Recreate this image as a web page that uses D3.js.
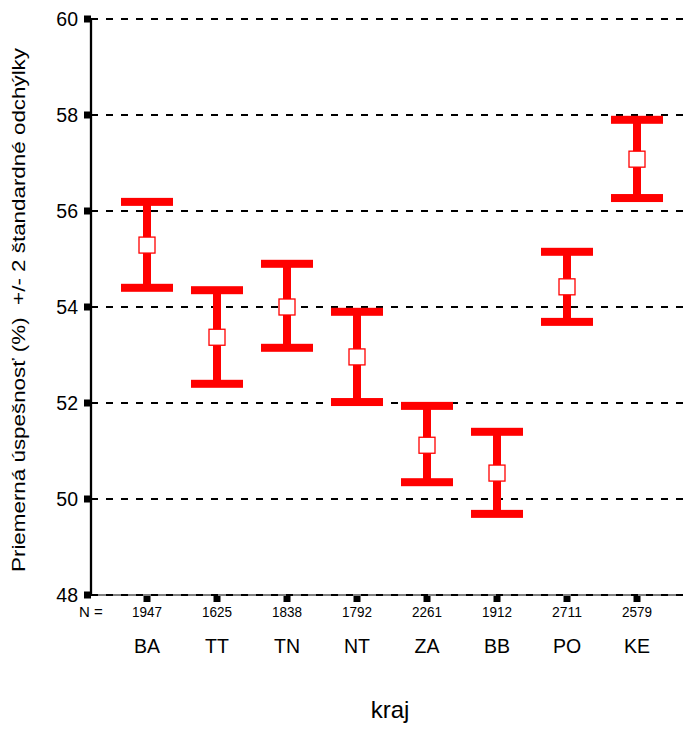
<!DOCTYPE html>
<html>
<head>
<meta charset="utf-8">
<script src="https://cdn.jsdelivr.net/npm/d3@7"></script>
<style>
  body { margin: 0; background: #fff; }
  text { font-family: "Liberation Sans", Arial, sans-serif; fill: #000; }
</style>
</head>
<body>
<script>
// údaje odčítané z grafu
const regions = ['BA', 'TT', 'TN', 'NT', 'ZA', 'BB', 'PO', 'KE'];
const counts = [1947, 1625, 1838, 1792, 2261, 1912, 2711, 2579];
const means = [55.29, 53.37, 54.0, 52.96, 51.12, 50.54, 54.42, 57.08];
const upper = [56.19, 54.35, 54.9, 53.9, 51.94, 51.4, 55.15, 57.9];
const lower = [54.4, 52.4, 53.15, 52.02, 50.35, 49.69, 53.69, 56.27];
const yTicks = [48, 50, 52, 54, 56, 58, 60];

const width = 683, height = 729;
const red = '#ff0000';

const svg = d3.select('body').append('svg')
    .attr('width', width)
    .attr('height', height);

const y = d3.scaleLinear().domain([48, 60]).range([595, 19]);
const x = d3.scalePoint().domain(regions).range([147, 637]);
const axisX = 91, rightX = 683;

// vodorovné prerušované čiary
svg.append('line')
    .attr('x1', axisX).attr('x2', rightX)
    .attr('y1', y(48)).attr('y2', y(48))
    .attr('stroke', '#000').attr('stroke-width', 1);

svg.selectAll('line.grid')
    .data(yTicks)
    .enter()
    .append('line')
    .attr('class', 'grid')
    .attr('x1', axisX).attr('x2', rightX)
    .attr('y1', d => y(d)).attr('y2', d => y(d))
    .attr('stroke', '#000')
    .attr('stroke-width', 2)
    .attr('stroke-dasharray', '7,8');

// os y
svg.append('line')
    .attr('x1', axisX).attr('x2', axisX)
    .attr('y1', y(60)).attr('y2', y(48))
    .attr('stroke', '#000').attr('stroke-width', 2.3);

svg.selectAll('rect.ytick')
    .data(yTicks)
    .enter()
    .append('rect')
    .attr('class', 'ytick')
    .attr('x', axisX - 7).attr('y', d => y(d) - 3.5)
    .attr('width', 7).attr('height', 7)
    .attr('fill', '#000');

svg.selectAll('text.ylab')
    .data(yTicks)
    .enter()
    .append('text')
    .attr('class', 'ylab')
    .attr('x', 78)
    .attr('y', d => y(d))
    .attr('dy', '0.38em')
    .attr('text-anchor', 'end')
    .attr('font-size', 19.5)
    .text(d => d);

// značky kategórií
svg.selectAll('rect.xtick')
    .data(regions)
    .enter()
    .append('rect')
    .attr('class', 'xtick')
    .attr('x', d => x(d) - 3.5).attr('y', y(48) + 1)
    .attr('width', 7).attr('height', 6)
    .attr('fill', '#000');

svg.append('text')
    .attr('x', 79).attr('y', 617)
    .attr('font-size', 15)
    .text('N =');

svg.selectAll('text.count')
    .data(regions)
    .enter()
    .append('text')
    .attr('class', 'count')
    .attr('x', d => x(d)).attr('y', 617)
    .attr('text-anchor', 'middle')
    .attr('font-size', 15)
    .attr('textLength', 30)
    .attr('lengthAdjust', 'spacingAndGlyphs')
    .text((d, i) => counts[i]);

svg.selectAll('text.region')
    .data(regions)
    .enter()
    .append('text')
    .attr('class', 'region')
    .attr('x', d => x(d)).attr('y', 653)
    .attr('text-anchor', 'middle')
    .attr('font-size', 19.5)
    .text(d => d);

// chybové úsečky
const bars = svg.selectAll('g.bar')
    .data(regions)
    .enter()
    .append('g')
    .attr('class', 'bar');

bars.append('rect')
    .attr('x', d => x(d) - 4)
    .attr('y', (d, i) => y(upper[i]))
    .attr('width', 8)
    .attr('height', (d, i) => y(lower[i]) - y(upper[i]))
    .attr('fill', red);

bars.append('rect')
    .attr('x', d => x(d) - 26)
    .attr('y', (d, i) => y(upper[i]) - 4)
    .attr('width', 52).attr('height', 8)
    .attr('fill', red);

bars.append('rect')
    .attr('x', d => x(d) - 26)
    .attr('y', (d, i) => y(lower[i]) - 4)
    .attr('width', 52).attr('height', 8)
    .attr('fill', red);

bars.append('rect')
    .attr('x', d => x(d) - 8)
    .attr('y', (d, i) => y(means[i]) - 8)
    .attr('width', 16).attr('height', 16)
    .attr('fill', '#fff')
    .attr('stroke', red)
    .attr('stroke-width', 1.3);

// popisy osí
svg.append('text')
    .attr('transform', 'translate(25,310) rotate(-90)')
    .attr('text-anchor', 'middle')
    .attr('font-size', 18)
    .attr('textLength', 524)
    .attr('lengthAdjust', 'spacingAndGlyphs')
    .attr('xml:space', 'preserve')
    .text('Priemerná úspešnosť (%)  +/- 2 štandardné odchýlky');

svg.append('text')
    .attr('x', 390).attr('y', 718)
    .attr('text-anchor', 'middle')
    .attr('font-size', 24)
    .text('kraj');
</script>
</body>
</html>
